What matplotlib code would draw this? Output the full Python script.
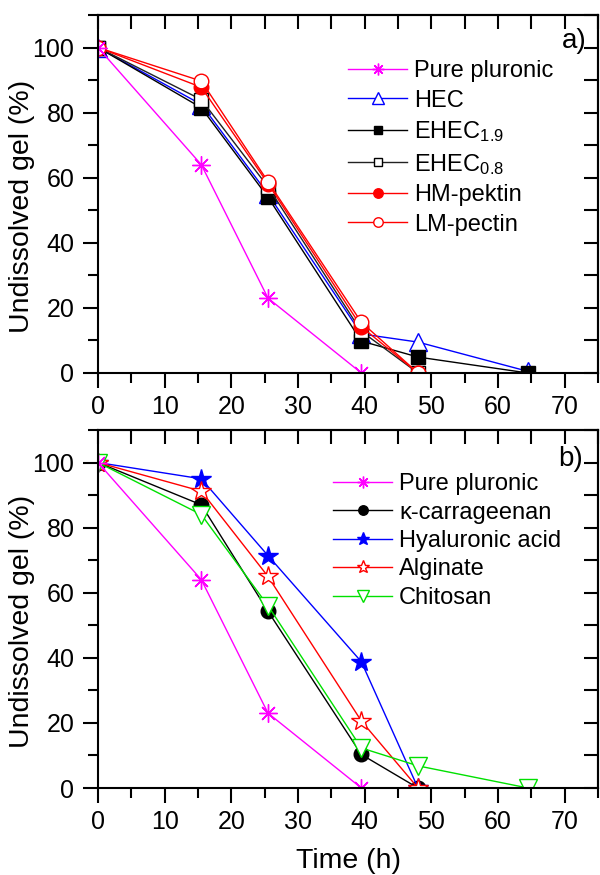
import matplotlib
matplotlib.use("Agg")
import matplotlib.pyplot as plt
from matplotlib.ticker import MultipleLocator

plt.rcParams['font.family'] = ['Liberation Sans', 'DejaVu Sans']
plt.rcParams['mathtext.fontset'] = 'custom'
plt.rcParams['mathtext.rm'] = 'Liberation Sans'
plt.rcParams['mathtext.it'] = 'Liberation Sans:italic'

# ---------------- data (panel a) ----------------
t_a4 = [0, 15.5, 25.5, 39.5]
t_a5 = [0, 15.5, 25.5, 39.5, 48]
t_a6 = [0, 15.5, 25.5, 39.5, 48, 64.5]
pure_a = [100, 64, 23, 0]
hec = [100, 82.5, 55, 12, 9.5, 0.5]
ehec19 = [100, 81.5, 54, 9.8, 4.9, 0]
ehec08 = [100, 84, 57.2, 12.8, 0]
hm_pektin = [100, 87.8, 58.2, 14.2, 0]
lm_pectin = [100, 89.7, 58.8, 15.6, 0]

# ---------------- data (panel b) ----------------
t_b4 = [0, 15.5, 25.5, 39.5]
t_b5 = [0, 15.5, 25.5, 39.5, 48]
t_b6 = [0, 15.5, 25.5, 39.5, 48, 64.5]
pure_b = [100, 64, 23, 0]
kappa = [100, 87, 54.3, 10.3, 0]
hyaluronic = [100, 95, 71.4, 38.8, 0]
alginate = [100, 91.2, 65, 20.6, 0]
chitosan = [100, 84, 56, 12.3, 6.8, 0]

x_ticks = [0, 10, 20, 30, 40, 50, 60, 70]
y_ticks = [0, 20, 40, 60, 80, 100]

MAG = '#FF00FF'
BLU = '#0000FF'
RED = '#FF0000'
GRN = '#00E000'
BLK = '#000000'

fig = plt.figure(figsize=(6, 8.75), dpi=100)
ax1 = fig.add_axes([98/600, 1-373/875, 500/600, 358/875])
ax2 = fig.add_axes([98/600, 1-788/875, 500/600, 358/875])

asterisk = (8, 2, 0)
lw = 1.0

# panel a
ax1.plot(t_a6, hec, color=BLU, lw=lw, marker='^', ms=13, mfc='white', mec=BLU, mew=1.0, label='HEC')
ax1.plot(t_a6, ehec19, color=BLK, lw=lw, marker='s', ms=9.5, mfc=BLK, mec=BLK, label='EHEC$_{\\mathregular{1.9}}$')
ax1.plot(t_a5, ehec08, color='#222222', lw=lw, marker='s', ms=9.5, mfc='white', mec=BLK, mew=1.0, label='EHEC$_{\\mathregular{0.8}}$')
ax1.plot(t_a5, hm_pektin, color=RED, lw=lw, marker='o', ms=10.5, mfc=RED, mec=RED, label='HM-pektin')
ax1.plot(t_a5, lm_pectin, color=RED, lw=lw, marker='o', ms=10.5, mfc='white', mec=RED, mew=1.0, label='LM-pectin')
ax1.plot(t_a4, pure_a, color=MAG, lw=lw, marker=asterisk, ms=13, mec=MAG, mew=1.0, label='Pure pluronic')

# panel b
ax2.plot(t_b5, kappa, color=BLK, lw=lw, marker='o', ms=10.5, mfc=BLK, mec=BLK, label='\u03ba-carrageenan')
ax2.plot(t_b5, hyaluronic, color=BLU, lw=lw, marker='*', ms=15, mfc=BLU, mec=BLU, label='Hyaluronic acid')
ax2.plot(t_b5, alginate, color=RED, lw=lw, marker='*', ms=15, mfc='white', mec=RED, mew=1.0, label='Alginate')
ax2.plot(t_b6, chitosan, color=GRN, lw=lw, marker='v', ms=13, mfc='white', mec=GRN, mew=1.0, label='Chitosan')
ax2.plot(t_b4, pure_b, color=MAG, lw=lw, marker=asterisk, ms=13, mec=MAG, mew=1.0, label='Pure pluronic')

for ax in (ax1, ax2):
    ax.set_xlim(0, 75)
    ax.set_ylim(0, 110)
    ax.set_xticks(x_ticks)
    ax.set_yticks(y_ticks)
    ax.xaxis.set_minor_locator(MultipleLocator(5))
    ax.yaxis.set_minor_locator(MultipleLocator(10))
    ax.tick_params(which='major', direction='out', length=11, width=1.5, labelsize=18, pad=5)
    ax.tick_params(which='minor', direction='out', length=7, width=1.5)
    ax.tick_params(axis='y', which='major', pad=6)
    ax.tick_params(top=False, right=False)
    for s in ax.spines.values():
        s.set_linewidth(1.5)
    sx = ax.secondary_xaxis('top')
    sx.set_xticks(list(range(0, 76, 5)))
    sx.tick_params(direction='in', length=10, width=1.5, labeltop=False)
    sx.spines['top'].set_linewidth(1.5)
    sy = ax.secondary_yaxis('right')
    sy.set_yticks(list(range(0, 111, 10)))
    sy.tick_params(direction='in', length=10, width=1.5, labelright=False)
    sy.spines['right'].set_linewidth(1.5)
    ax.set_ylabel('Undissolved gel (%)', fontsize=20.5)
    ax.yaxis.set_label_coords(-0.126, 0.464)

ax2.set_xlabel('Time (h)', fontsize=20.5, labelpad=10)

ax1.text(0.978, 0.927, 'a)', transform=ax1.transAxes, fontsize=20, ha='right', va='center')
ax2.text(0.97, 0.919, 'b)', transform=ax2.transAxes, fontsize=20, ha='right', va='center')

h1, l1 = ax1.get_legend_handles_labels()
order1 = [5, 0, 1, 2, 3, 4]
ax1.legend([h1[i] for i in order1], [l1[i] for i in order1], loc='upper left',
           bbox_to_anchor=(0.5, 0.874), frameon=False, fontsize=17, markerscale=0.65,
           handlelength=2.5, handletextpad=0.3, labelspacing=0.32, borderpad=0, borderaxespad=0)

h2, l2 = ax2.get_legend_handles_labels()
order2 = [4, 0, 1, 2, 3]
ax2.legend([h2[i] for i in order2], [l2[i] for i in order2], loc='upper left',
           bbox_to_anchor=(0.47, 0.879), frameon=False, fontsize=17, markerscale=0.65,
           handlelength=2.5, handletextpad=0.3, labelspacing=0.27, borderpad=0, borderaxespad=0)

fig.savefig('out.png', dpi=100)
